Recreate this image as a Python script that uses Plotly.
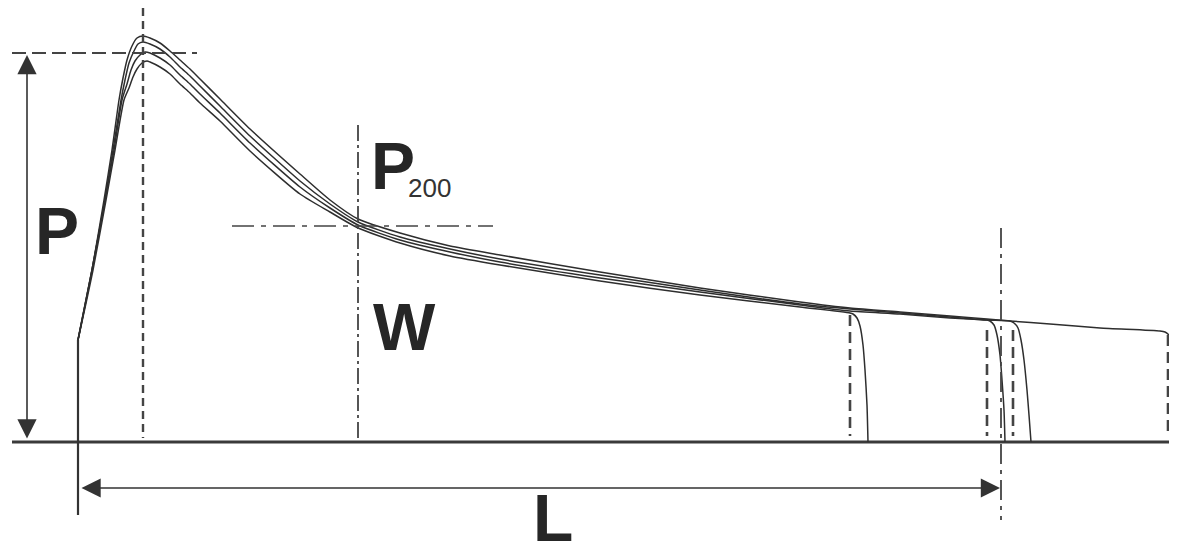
import plotly.graph_objects as go

# ---- data (distance x, pressure y; origin = start of the curve on the baseline) ----
DIST = [72, 82, 92, 102, 112, 122, 142, 172, 222, 252, 280, 322, 372, 422, 522, 622,
        722, 772, 822, 872, 909, 932, 972, 1022, 1082]

RISE_A_X = [0, 14, 26, 34, 41, 45, 49, 54, 59, 65]
RISE_A_Y = [102, 172, 242, 292, 342, 364, 382, 396, 404, 406]
RISE_B_X = [0, 14, 27, 35, 43, 47, 51, 56, 60, 65]
RISE_B_Y = [102, 172, 242, 292, 342, 362, 379, 391, 398, 400]
RISE_C_X = [0, 14, 27, 36, 44, 49, 53, 57, 62, 67]
RISE_C_Y = [102, 172, 242, 292, 342, 358, 372, 381, 387, 390]
RISE_D_X = [0, 15, 28, 37, 46, 51, 55, 59, 64, 69]
RISE_D_Y = [102, 172, 242, 292, 342, 354, 365, 373, 379, 381]

PRESS_A = [404, 399, 391, 382, 373, 363, 343, 313, 268, 242, 223, 209, 196, 187, 170, 154,
           140, 134, 130, 126, 123, 121, 118, 114, 111]
PRESS_B = [398, 393, 385, 375, 366, 356, 336, 306, 261, 238, 220, 205, 193, 183, 167, 152,
           138, 133, 129, 125, 122, 121]
PRESS_C = [389, 384, 377, 367, 358, 348, 329, 299, 255, 234, 217, 202, 190, 180, 164, 150,
           137, 131, 128, 124, 122]
PRESS_D = [380, 375, 368, 358, 349, 339, 321, 291, 248, 230, 214, 199, 186, 177, 161, 147,
           135, 129]

DROP_A_X = [1087, 1091, 1095, 1098, 1101]
DROP_A_Y = [110, 107, 102, 94, 82]
DROP_B_X = [936, 940, 943, 946, 949, 951, 953]
DROP_B_Y = [119, 114, 102, 82, 52, 27, 0]
DROP_C_X = [912, 916, 919, 922, 924, 926, 927]
DROP_C_Y = [121, 117, 107, 87, 62, 32, 0]
DROP_D_X = [775, 779, 782, 785, 787, 789, 790]
DROP_D_Y = [128, 124, 116, 97, 72, 37, 0]

# characteristic values
P_MAX = 389          # P level (horizontal dashed line)
X_PEAK = 65          # position of the peak
X_200 = 280          # position where P200 is read
P_200 = 216          # P200 level
L_END = 923          # L (length of curve)
RUPTURES = [772, 909, 935, 1090]   # dashed verticals at the rupture points
RUPTURE_TOP = [127, 112, 112, 107]

INK = "#2e2e2e"
GUIDE = "#444444"

fig = go.Figure()


def seg(x, y, width=1.5, dash="solid", color=GUIDE):
    fig.add_trace(go.Scatter(x=x, y=y, mode="lines", hoverinfo="skip",
                             line=dict(color=color, width=width, dash=dash)))


# baseline and left frame
seg([-66, 1110], [0, 0], width=3, color="#3a3a3a")
seg([0, 0], [102, -73], width=2.2, color="#333333")

# curves
curves = [
    (RISE_A_X, RISE_A_Y, PRESS_A, DROP_A_X, DROP_A_Y),
    (RISE_B_X, RISE_B_Y, PRESS_B, DROP_B_X, DROP_B_Y),
    (RISE_C_X, RISE_C_Y, PRESS_C, DROP_C_X, DROP_C_Y),
    (RISE_D_X, RISE_D_Y, PRESS_D, DROP_D_X, DROP_D_Y),
]
for rx, ry, pv, dx, dy in curves:
    xs = rx + DIST[:len(pv)] + dx
    ys = ry + pv + dy
    fig.add_trace(go.Scatter(x=xs, y=ys, mode="lines", hoverinfo="skip",
                             line=dict(color=INK, width=1.5, shape="spline", smoothing=0.6)))

# guide lines
seg([X_PEAK, X_PEAK], [434, 4], width=2.4, dash="8px,5px")
seg([-66, 119], [P_MAX, P_MAX], width=2, dash="14px,6px")
seg([X_200, X_200], [317, 2], width=1.8, dash="16px,4px,3px,4px")
seg([154, 415], [P_200, P_200], width=1.6, dash="22px,7px,5px,7px")
seg([L_END, L_END], [214, -78], width=1.8, dash="20px,6px,4px,6px")
for rx, top in zip(RUPTURES, RUPTURE_TOP):
    seg([rx, rx], [top, 6], width=2.6, dash="11px,6px")

# arrows P and L
for x0, y0, x1, y1 in [(-51, 387, -51, 2), (922, -46, 2, -46)]:
    fig.add_annotation(x=x0, y=y0, ax=x1, ay=y1, xref="x", yref="y", axref="x", ayref="y",
                       text="", showarrow=True, arrowhead=2, arrowside="end+start",
                       arrowsize=2.4, arrowwidth=1.6, arrowcolor="#333333",
                       standoff=0, startstandoff=0)

BIG = dict(family="Liberation Sans, Arial, sans-serif", size=66, color="#262626")
labels = [("<b>P</b>", -21, 211), ("<b>P</b>", 315, 276), ("<b>W</b>", 326, 115), ("<b>L</b>", 475, -76)]
for t, x, y in labels:
    fig.add_annotation(x=x, y=y, xref="x", yref="y", text=t, showarrow=False,
                       font=BIG, xanchor="center", yanchor="middle")
fig.add_annotation(x=351, y=254, xref="x", yref="y", text="200", showarrow=False,
                   font=dict(family="Liberation Sans, Arial, sans-serif", size=26, color="#333333"),
                   xanchor="center", yanchor="middle")

# the page draws the figure 8px in from the top-left, so the ranges are offset by that much
fig.update_layout(width=1177, height=548, margin=dict(l=0, r=0, t=0, b=0),
                  paper_bgcolor="white", plot_bgcolor="white", showlegend=False,
                  xaxis=dict(range=[-70, 1107], visible=False, fixedrange=True),
                  yaxis=dict(range=[-114, 434], visible=False, fixedrange=True))

fig.write_html("out.html")
